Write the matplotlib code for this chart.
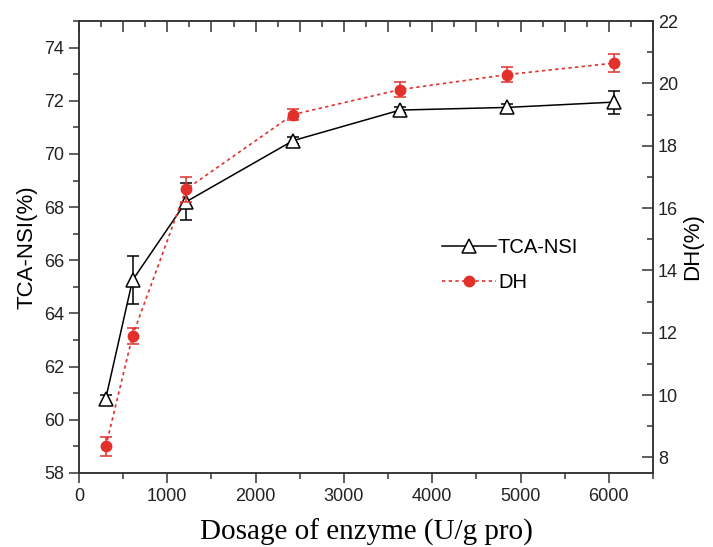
import matplotlib.pyplot as plt
from matplotlib.lines import Line2D
from matplotlib.ticker import MultipleLocator, NullLocator

# enzyme dosage (U/g pro)
dosage = [303, 606, 1212, 2424, 3636, 4848, 6060]

# TCA-NSI (%) on left axis
tca_nsi = [60.8, 65.25, 68.2, 70.5, 71.65, 71.75, 71.95]
tca_err = [0.15, 0.9, 0.7, 0.12, 0.12, 0.12, 0.43]

# DH (%) on right axis
dh = [8.35, 11.9, 16.6, 19.0, 19.8, 20.28, 20.65]
dh_err = [0.3, 0.25, 0.4, 0.18, 0.25, 0.23, 0.28]

RED = '#e2302b'
SPINE = '#333333'
POS = [0.1108, 0.1353, 0.8050, 0.8263]

fig = plt.figure(figsize=(7.13, 5.47), dpi=100)
ax = fig.add_axes(POS)
ax2 = ax.twinx()

tri_style = dict(color='black', lw=1.1, marker='^', ms=9.5, mfc='white', mec='black', mew=1.1)
dot_style = dict(color=RED, lw=1.2, ls=(0, (2.0, 2.0)), marker='o', ms=7.5, mfc=RED, mec=RED)

ax.errorbar(dosage, tca_nsi, yerr=tca_err, capsize=4, elinewidth=1.1, capthick=1.1, **tri_style)
ax2.errorbar(dosage, dh, yerr=dh_err, capsize=4, elinewidth=1.1, capthick=1.1, **dot_style)

ax.set_xlim(0, 6500)
ax.set_ylim(58, 75)
ax2.set_ylim(7.5, 22)

ax.xaxis.set_major_locator(MultipleLocator(1000))
ax.xaxis.set_minor_locator(MultipleLocator(500))
ax.yaxis.set_major_locator(MultipleLocator(2))
ax.yaxis.set_minor_locator(MultipleLocator(1))
ax2.yaxis.set_major_locator(MultipleLocator(2))
ax2.yaxis.set_minor_locator(MultipleLocator(1))

ax.tick_params(axis='both', which='major', direction='out', length=7, width=1.1,
               color=SPINE, labelsize=13, labelcolor='#222222')
ax.tick_params(axis='both', which='minor', direction='out', length=4, width=1.1, color=SPINE)
ax2.tick_params(axis='y', which='major', direction='in', length=8, width=1.1,
                color=SPINE, labelsize=13, labelcolor='#222222')
ax2.tick_params(axis='y', which='minor', direction='in', length=4, width=1.1, color=SPINE)

# top axis: inward ticks only, no labels
top = fig.add_axes(POS, frameon=False)
top.set_xlim(0, 6500)
top.patch.set_visible(False)
top.xaxis.set_major_locator(MultipleLocator(500))
top.xaxis.set_minor_locator(MultipleLocator(250))
top.yaxis.set_major_locator(NullLocator())
top.tick_params(axis='x', which='both', bottom=False, labelbottom=False, top=True,
                labeltop=False, direction='in', width=1.1, color=SPINE)
top.tick_params(axis='x', which='major', length=8)
top.tick_params(axis='x', which='minor', length=4.5)

for a in (ax, ax2):
    for s in a.spines.values():
        s.set_color(SPINE)
        s.set_linewidth(1.1)

for lab in ax.get_xticklabels() + ax.get_yticklabels() + ax2.get_yticklabels():
    lab.set_family('Liberation Sans')

ax.set_xlabel('Dosage of enzyme (U/g pro)', family='Liberation Serif', fontsize=21, labelpad=10)
ax.set_ylabel('TCA-NSI(%)', family='Liberation Sans', fontsize=16, labelpad=5)
ax2.set_ylabel('DH(%)', family='Liberation Sans', fontsize=16, labelpad=3)

handles = [Line2D([], [], **tri_style), Line2D([], [], **dot_style)]
top.legend(handles, ['TCA-NSI', 'DH'], loc='upper left', bbox_to_anchor=(0.6, 0.56),
           frameon=False, prop={'family': 'Liberation Sans', 'size': 14.5},
           handlelength=2.7, handletextpad=0.1, labelspacing=0.8)

fig.savefig('out.png', dpi=100)
